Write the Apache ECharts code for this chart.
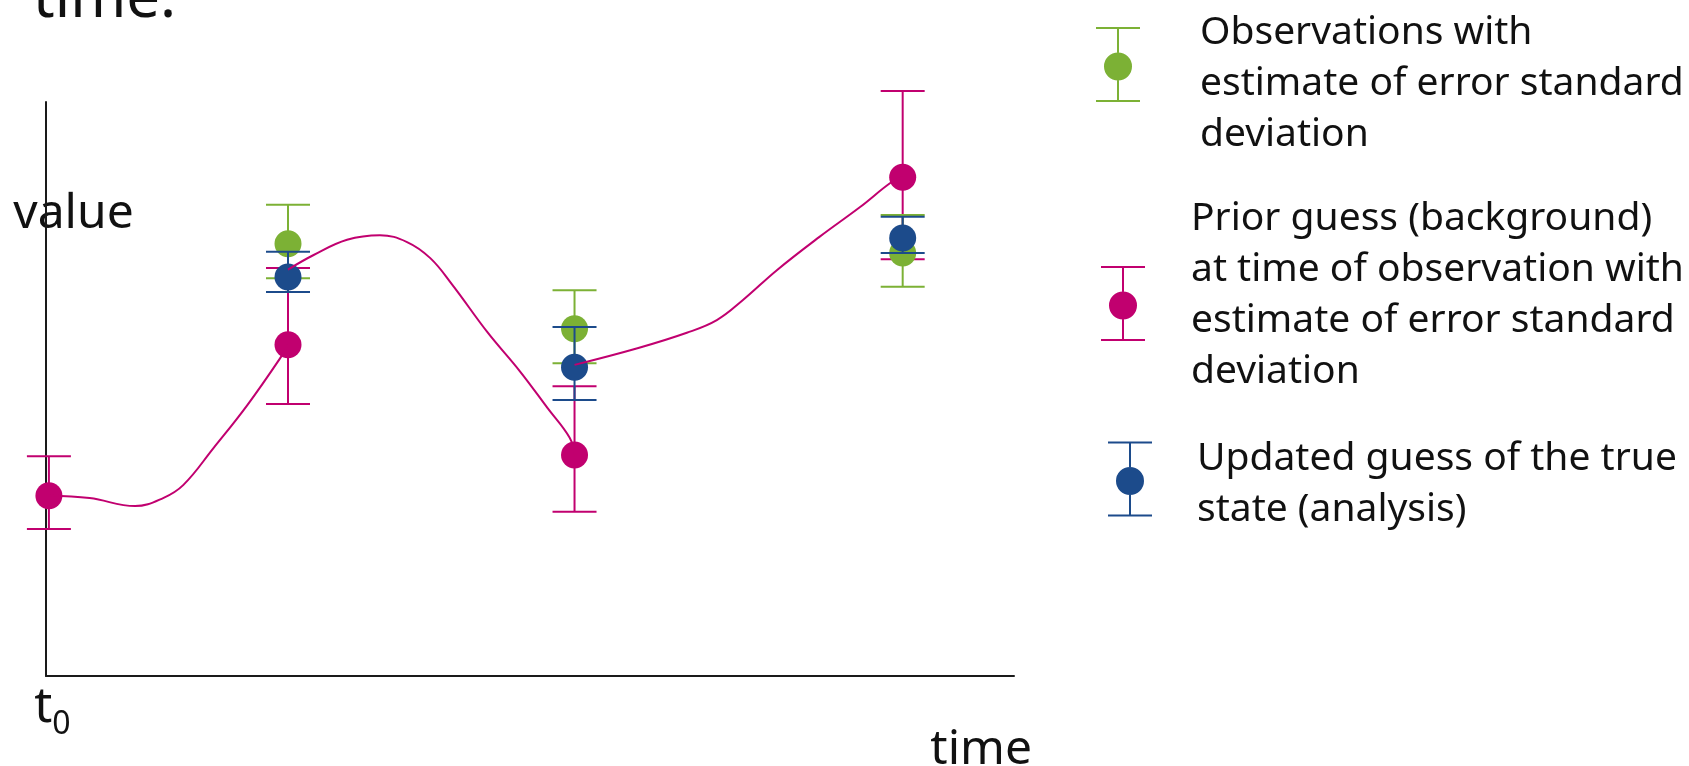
<!DOCTYPE html>
<html>
<head>
<meta charset="utf-8">
<script src="https://cdn.jsdelivr.net/npm/echarts@6/dist/echarts.min.js"></script>
<style>
  html, body { margin: 0; padding: 0; background: #ffffff; }
  #chart { width: 1689px; height: 766px; }
</style>
</head>
<body>
<div id="chart"></div>
<script>
// Observation times along the time axis (t0 is the start of the window)
const backgroundTimes = [0.03, 2.50, 5.46, 8.85];
const obsTimes = [2.50, 5.46, 8.85];

// Prior guess (background) with its error standard deviation range
const background = [3.14, 5.77, 3.85, 8.69];
const backgroundLow = [2.56, 4.74, 2.86, 7.26];
const backgroundHigh = [3.83, 7.11, 5.05, 10.19];

// Observations with error standard deviation range
const observed = [7.53, 6.05, 7.37];
const observedLow = [6.93, 5.45, 6.78];
const observedHigh = [8.21, 6.72, 8.03];

// Updated guess (analysis) with error standard deviation range
const analysis = [6.95, 5.38, 7.63];
const analysisLow = [6.69, 4.81, 7.37];
const analysisHigh = [7.39, 6.08, 8.00];

// Model trajectories between observation times: [time, value]
const trajectory1 = [[0.03, 3.14], [0.45, 3.10], [0.92, 2.96], [1.21, 3.10], [1.42, 3.33],
  [1.73, 3.97], [2.08, 4.72], [2.44, 5.59], [2.50, 5.77]];
const trajectory2 = [[2.50, 7.08], [2.76, 7.33], [3.11, 7.60], [3.45, 7.68], [3.73, 7.56],
  [3.97, 7.28], [4.20, 6.81], [4.56, 5.99], [4.90, 5.30], [5.18, 4.67], [5.41, 4.15], [5.46, 3.85]];
const trajectory3 = [[5.46, 5.42], [6.11, 5.71], [6.62, 5.98], [6.93, 6.20], [7.20, 6.55],
  [7.55, 7.07], [7.99, 7.65], [8.41, 8.17], [8.74, 8.61], [8.85, 8.69]];

const legendObs = 'Observations with\nestimate of error standard\ndeviation';
const legendBackground = 'Prior guess (background)\nat time of observation with\nestimate of error standard\ndeviation';
const legendAnalysis = 'Updated guess of the true\nstate (analysis)';

const GREEN = '#7cb135';
const MAGENTA = '#c1006f';
const BLUE = '#1c4b8b';
const INK = '#111111';
const SANS = "'Noto Sans', 'Open Sans', sans-serif";

// Error bar glyph (44 x 75): caps, stem and a round marker
const ERRBAR_ICON = 'path://M0,0H44V2H0Z M21,2H23V25.5H21Z M0,73H44V75H0Z M21,53.5H23V73H21Z ' +
  'M8,39.5A14,14,0,1,1,36,39.5A14,14,0,1,1,8,39.5Z';

function rows(times, mid, low, high) {
  return times.map((t, i) => [t, mid[i], low[i], high[i]]);
}

function errorBars(color) {
  const capHalf = 22;
  const radius = 13.5;
  return function (params, api) {
    const t = api.value(0);
    const c = api.coord([t, api.value(1)]);
    const lo = api.coord([t, api.value(2)]);
    const hi = api.coord([t, api.value(3)]);
    const stroke = { stroke: color, lineWidth: 2, fill: null };
    return {
      type: 'group',
      children: [
        { type: 'line', shape: { x1: lo[0], y1: lo[1], x2: hi[0], y2: hi[1] }, style: stroke },
        { type: 'line', shape: { x1: hi[0] - capHalf, y1: hi[1], x2: hi[0] + capHalf, y2: hi[1] }, style: stroke },
        { type: 'line', shape: { x1: lo[0] - capHalf, y1: lo[1], x2: lo[0] + capHalf, y2: lo[1] }, style: stroke },
        { type: 'circle', shape: { cx: c[0], cy: c[1], r: radius }, style: { fill: color } }
      ]
    };
  };
}

function trajectory(data) {
  return {
    type: 'line',
    name: 'trajectory',
    data: data,
    smooth: 0.4,
    symbol: 'none',
    z: 5,
    silent: true,
    lineStyle: { color: MAGENTA, width: 2 }
  };
}

// One legend block per series so each entry can be placed on its own
function legendBlock(name, left, top, padding) {
  return {
    orient: 'vertical',
    left: left,
    top: top,
    padding: 0,
    itemWidth: 44,
    itemHeight: 75,
    selectedMode: false,
    itemStyle: { borderWidth: 0 },
    formatter: function (n) { return '{b|' + n + '}'; },
    textStyle: {
      fontFamily: SANS, fontSize: 39, lineHeight: 51, color: INK,
      padding: padding,
      rich: { b: { fontFamily: SANS, fontSize: 39, lineHeight: 51, color: INK } }
    },
    data: [{ name: name, icon: ERRBAR_ICON }]
  };
}

const chart = echarts.init(document.getElementById('chart'), null, { renderer: 'canvas' });

chart.setOption({
  animation: false,
  backgroundColor: '#ffffff',
  title: {
    text: 'time.',
    left: 33,
    top: -30,
    padding: 0,
    textStyle: { fontFamily: SANS, fontSize: 60, lineHeight: 60, fontWeight: 'normal', color: INK }
  },
  legend: [
    legendBlock(legendObs, 1096, -31, [38, 0, 0, 55]),
    legendBlock(legendBackground, 1101, 193.5, [0, 0, 16, 41]),
    legendBlock(legendAnalysis, 1108, 422.5, [11, 0, 0, 40])
  ],
  grid: { left: 46, top: 102, right: 675, bottom: 90, containLabel: false, outerBoundsMode: 'none' },
  xAxis: {
    type: 'value',
    min: 0,
    max: 10,
    interval: 10,
    name: 'time',
    nameLocation: 'end',
    nameGap: 18,
    nameTextStyle: {
      fontFamily: SANS, fontSize: 48, lineHeight: 48, color: INK,
      align: 'right', verticalAlign: 'top', padding: [50, 0, 0, 0]
    },
    axisLine: { show: true, lineStyle: { color: '#1a1a1a', width: 2 } },
    axisTick: { show: false },
    splitLine: { show: false },
    axisLabel: {
      show: true,
      margin: 7,
      padding: [0, 0, 0, 13],
      formatter: function (v) { return v === 0 ? '{t|t}{s|0}' : ''; },
      rich: {
        t: { fontFamily: SANS, fontSize: 50, lineHeight: 50, color: INK, verticalAlign: 'top' },
        s: { fontFamily: SANS, fontSize: 32, lineHeight: 32, color: INK, verticalAlign: 'top', padding: [26, 0, 0, 0] }
      }
    }
  },
  yAxis: {
    type: 'value',
    min: 0,
    max: 10,
    interval: 10,
    name: 'value',
    nameLocation: 'end',
    nameGap: -88,
    nameTextStyle: {
      fontFamily: SANS, fontSize: 48, lineHeight: 48, color: INK,
      align: 'center', verticalAlign: 'top', padding: [0, 0, 0, 55]
    },
    axisLine: { show: true, lineStyle: { color: '#1a1a1a', width: 2 } },
    axisTick: { show: false },
    splitLine: { show: false },
    axisLabel: { show: false }
  },
  series: [
    {
      type: 'custom',
      name: legendBackground,
      renderItem: errorBars(MAGENTA),
      data: rows(backgroundTimes, background, backgroundLow, backgroundHigh),
      encode: { x: 0, y: [1, 2, 3] },
      itemStyle: { color: MAGENTA },
      clip: false,
      silent: true,
      z: 2
    },
    {
      type: 'custom',
      name: legendObs,
      renderItem: errorBars(GREEN),
      data: rows(obsTimes, observed, observedLow, observedHigh),
      encode: { x: 0, y: [1, 2, 3] },
      itemStyle: { color: GREEN },
      clip: false,
      silent: true,
      z: 3
    },
    {
      type: 'custom',
      name: legendAnalysis,
      renderItem: errorBars(BLUE),
      data: rows(obsTimes, analysis, analysisLow, analysisHigh),
      encode: { x: 0, y: [1, 2, 3] },
      itemStyle: { color: BLUE },
      clip: false,
      silent: true,
      z: 4
    },
    trajectory(trajectory1),
    trajectory(trajectory2),
    trajectory(trajectory3)
  ]
});
</script>
</body>
</html>
